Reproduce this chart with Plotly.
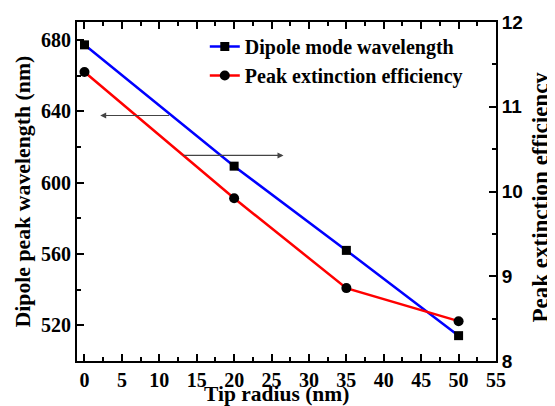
import plotly.graph_objects as go

tip_radius = [0, 20, 35, 50]
dipole_wavelength = [677.2, 609.2, 562.0, 514.2]
peak_extinction = [11.41, 9.92, 8.86, 8.47]

x_ticks = [0, 5, 10, 15, 20, 25, 30, 35, 40, 45, 50, 55]
left_ticks = [520, 560, 600, 640, 680]
right_ticks = [8, 9, 10, 11, 12]

SERIF = "Liberation Serif, Times New Roman, serif"
SANS = "Liberation Sans, Arial, sans-serif"

fig = go.Figure()
fig.add_trace(go.Scatter(
    x=tip_radius, y=dipole_wavelength, mode="lines+markers",
    name="<b>Dipole mode wavelength</b>", legendgroup="a",
    line=dict(color="#0000FF", width=2.5),
    marker=dict(symbol="square", size=9, color="black"),
    yaxis="y"))
fig.add_trace(go.Scatter(
    x=tip_radius, y=peak_extinction, mode="lines+markers",
    name="<b>Peak extinction efficiency</b>", legendgroup="b",
    line=dict(color="#FF0000", width=2.5),
    marker=dict(symbol="circle", size=10, color="black"),
    yaxis="y2"))

tickfont = dict(family=SERIF, size=20, color="black")

# page body has an 8px default margin, so the figure is 8px smaller
fig.update_layout(
    width=547, height=398,
    margin=dict(l=69, r=59, t=14, b=45),
    paper_bgcolor="white", plot_bgcolor="white",
    showlegend=True,
    legend=dict(x=0.305, y=0.985, xanchor="left", yanchor="top",
                bgcolor="rgba(0,0,0,0)", borderwidth=0,
                font=dict(family=SERIF, size=20, color="black"),
                tracegroupgap=0),
    xaxis=dict(range=[-1, 55], tickvals=x_ticks,
               ticktext=[f"<b>{v}</b>" for v in x_ticks],
               ticks="inside", ticklen=7, tickwidth=1.5, tickcolor="black",
               minor=dict(ticks="inside", ticklen=4, tickwidth=1.5, dtick=2.5, tick0=0, tickcolor="black"),
               showline=True, linecolor="black", linewidth=2, mirror="ticks",
               showgrid=False, zeroline=False, tickfont=tickfont, automargin=False),
    yaxis=dict(range=[500, 690], tickvals=left_ticks,
               ticktext=[f"<b>{v}</b>" for v in left_ticks],
               ticks="inside", ticklen=7, tickwidth=1.5, tickcolor="black",
               minor=dict(ticks="inside", ticklen=4, tickwidth=1.5, dtick=20, tick0=500, tickcolor="black"),
               showline=True, linecolor="black", linewidth=2,
               showgrid=False, zeroline=False, tickfont=tickfont, automargin=False),
    yaxis2=dict(range=[8, 12], tickvals=right_ticks,
                ticktext=[f"<b>{v}</b>" for v in right_ticks],
                overlaying="y", side="right",
                ticks="inside", ticklen=7, tickwidth=1.5, tickcolor="black",
                minor=dict(ticks="inside", ticklen=4, tickwidth=1.5, dtick=0.5, tick0=8, tickcolor="black"),
                showline=True, linecolor="black", linewidth=2,
                showgrid=False, zeroline=False, automargin=False,
                tickfont=dict(family=SANS, size=19, color="black")),
)

# axis titles
fig.add_annotation(text="<b>Tip radius (nm)</b>", xref="paper", yref="paper",
                   x=0.477, y=0, xanchor="center", yanchor="middle", yshift=-33,
                   showarrow=False, font=dict(family=SERIF, size=21.5, color="black"))
fig.add_annotation(text="<b>Dipole peak wavelength (nm)</b>", xref="paper", yref="paper",
                   x=0, y=0.5, xanchor="center", yanchor="middle", xshift=-55,
                   textangle=-90, showarrow=False,
                   font=dict(family=SERIF, size=21.8, color="black"))
fig.add_annotation(text="<b>Peak extinction efficiency</b>", xref="paper", yref="paper",
                   x=1, y=0.5, xanchor="center", yanchor="middle", xshift=44, yshift=-6,
                   textangle=-90, showarrow=False,
                   font=dict(family=SERIF, size=23, color="black"))

arrow_color = "#444444"
fig.add_annotation(x=2.1, y=637.6, ax=11.5, ay=637.6, xref="x", yref="y",
                   axref="x", ayref="y", showarrow=True, arrowhead=2,
                   arrowsize=1, arrowwidth=1.2, arrowcolor=arrow_color, text="")
fig.add_annotation(x=26.6, y=615.2, ax=13.05, ay=615.2, xref="x", yref="y",
                   axref="x", ayref="y", showarrow=True, arrowhead=2,
                   arrowsize=1, arrowwidth=1.2, arrowcolor=arrow_color, text="")

fig.write_html("out.html")
